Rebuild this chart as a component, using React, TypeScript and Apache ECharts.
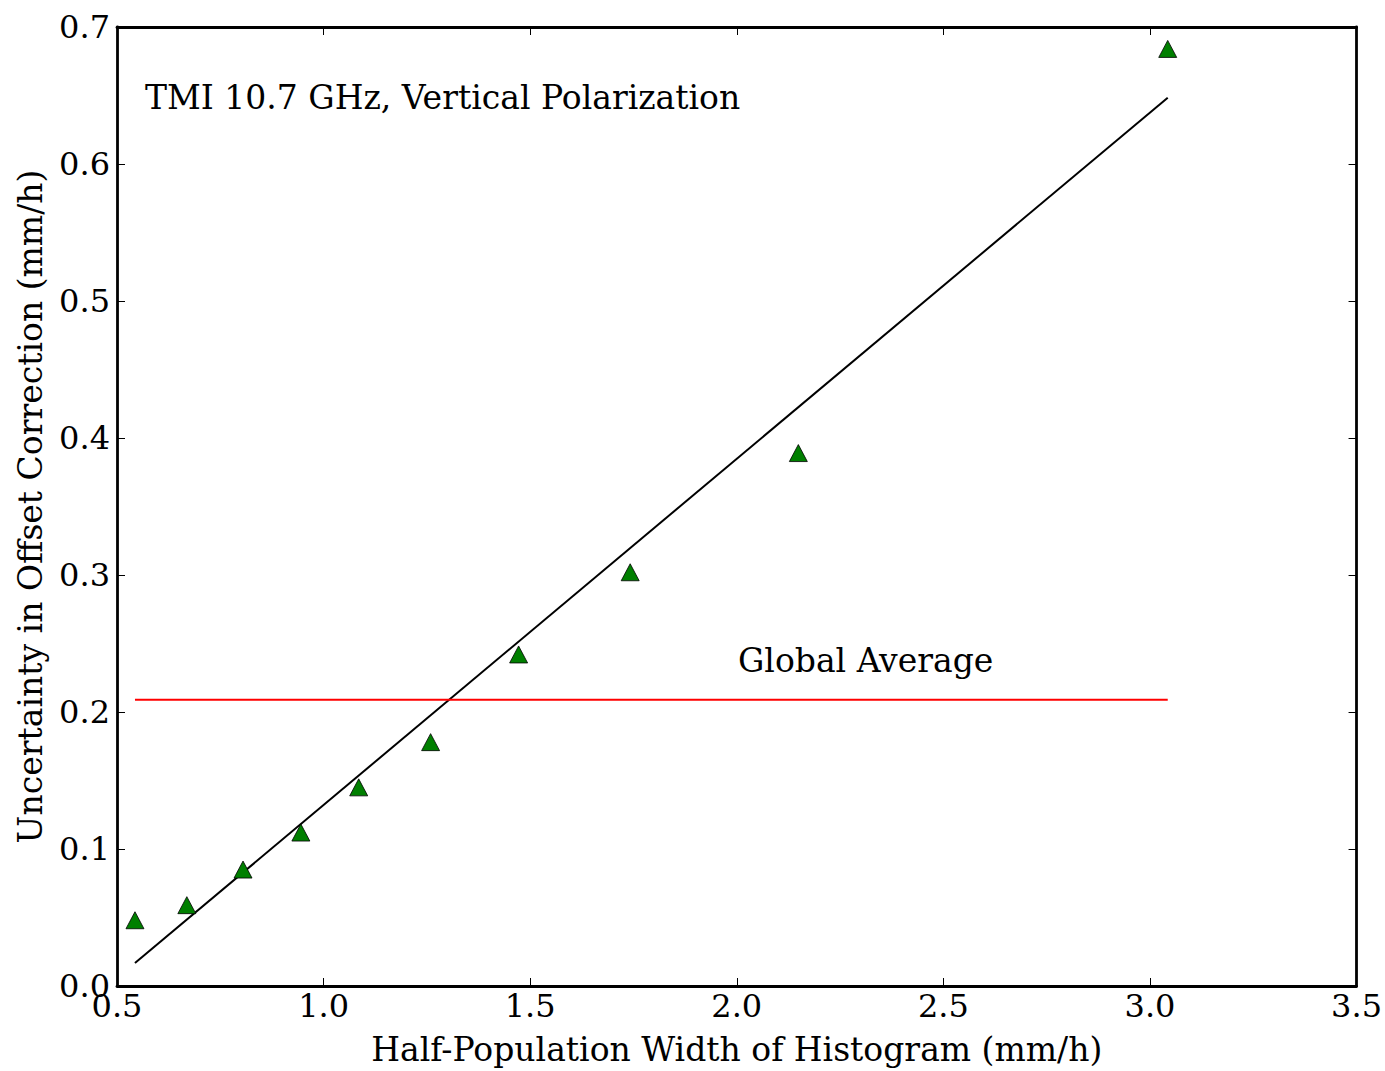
import React, { useEffect, useRef } from "react";
import * as echarts from "echarts";

const pointX = [0.5435, 0.669, 0.805, 0.945, 1.085, 1.259, 1.472, 1.742, 2.149, 3.043];
const pointY = [0.048, 0.059, 0.085, 0.112, 0.145, 0.178, 0.242, 0.302, 0.389, 0.684];
const fitX = [0.5435, 3.043];
const fitY = [0.0168, 0.6484];
const globalAverage = 0.209;
const xTicks = ["0.5", "1.0", "1.5", "2.0", "2.5", "3.0", "3.5"];
const yTicks = ["0.0", "0.1", "0.2", "0.3", "0.4", "0.5", "0.6", "0.7"];

const FONT = "DejaVu Serif";

export default function App() {
  const ref = useRef<HTMLDivElement>(null);
  useEffect(() => {
    if (!ref.current) return;
    const chart = echarts.init(ref.current, null, { renderer: "svg" });
    const tickStyle = { show: true, inside: true, length: 8, lineStyle: { color: "#000", width: 1 } };
    const baseAxis = {
      axisLine: { show: true, onZero: false, lineStyle: { color: "#000", width: 2.8 } },
      splitLine: { show: false },
      axisTick: tickStyle,
    };
    chart.setOption({
      animation: false,
      backgroundColor: "#fff",
      grid: { left: 117, top: 27, width: 1241, height: 960, containLabel: false },
      xAxis: [
        {
          ...baseAxis,
          type: "value",
          min: 0.5,
          max: 3.5,
          interval: 0.5,
          position: "bottom",
          axisLabel: {
            fontFamily: FONT,
            fontSize: 32,
            color: "#000",
            margin: 4,
            formatter: (v: number) => xTicks[Math.round((v - 0.5) / 0.5)] ?? "",
          },
          name: "Half-Population Width of Histogram (mm/h)",
          nameLocation: "middle",
          nameGap: 47,
          nameTextStyle: { fontFamily: FONT, fontSize: 33, color: "#000" },
        },
        {
          ...baseAxis,
          type: "value",
          min: 0.5,
          max: 3.5,
          interval: 0.5,
          position: "top",
          axisLabel: { show: false },
        },
      ],
      yAxis: [
        {
          ...baseAxis,
          type: "value",
          min: 0,
          max: 0.7,
          interval: 0.1,
          position: "left",
          axisLabel: {
            fontFamily: FONT,
            fontSize: 32,
            color: "#000",
            margin: 7,
            formatter: (v: number) => yTicks[Math.round(v / 0.1)] ?? "",
          },
          name: "Uncertainty in Offset Correction (mm/h)",
          nameLocation: "middle",
          nameGap: 70,
          nameRotate: 90,
          nameTextStyle: { fontFamily: FONT, fontSize: 33, color: "#000" },
        },
        {
          ...baseAxis,
          type: "value",
          min: 0,
          max: 0.7,
          interval: 0.1,
          position: "right",
          axisLabel: { show: false },
        },
      ],
      series: [
        {
          type: "line",
          data: fitX.map((x, i) => [x, fitY[i]]),
          showSymbol: false,
          symbol: "none",
          lineStyle: { color: "#000", width: 2 },
          z: 2,
        },
        {
          type: "line",
          data: fitX.map((x) => [x, globalAverage]),
          showSymbol: false,
          symbol: "none",
          lineStyle: { color: "#ff0000", width: 2 },
          z: 2,
        },
        {
          type: "scatter",
          data: pointX.map((x, i) => [x, pointY[i]]),
          symbol: "triangle",
          symbolSize: [18, 17],
          itemStyle: { color: "#007f00", opacity: 1, borderColor: "#000", borderWidth: 0.8 },
          z: 3,
        },
      ],
      graphic: [
        {
          type: "text",
          left: 145,
          top: 81,
          style: { text: "TMI 10.7 GHz, Vertical Polarization", fontFamily: FONT, fontSize: 33, fill: "#000" },
        },
        {
          type: "text",
          left: 738,
          top: 644,
          style: { text: "Global Average", fontFamily: FONT, fontSize: 33, fill: "#000" },
        },
      ],
    });
    return () => chart.dispose();
  }, []);
  return (
    <div
      ref={ref}
      style={{ position: "absolute", left: 0, top: 0, width: 1385, height: 1071 }}
    />
  );
}
